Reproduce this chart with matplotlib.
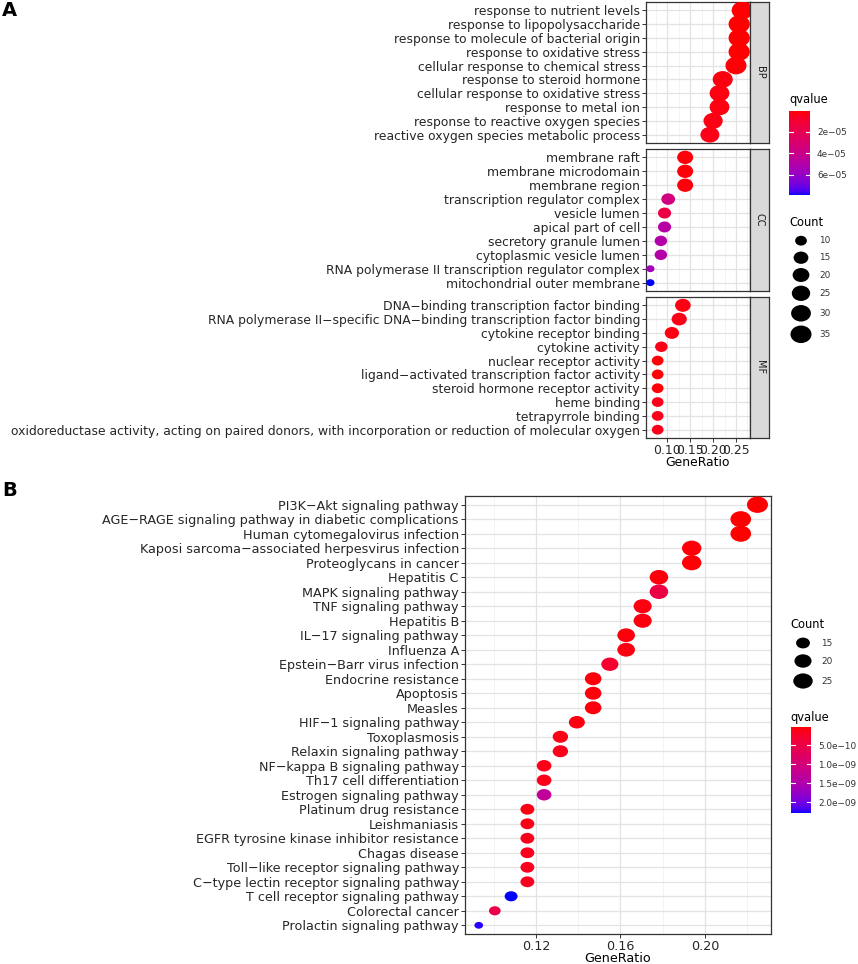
import numpy as np
import matplotlib
matplotlib.use('Agg')
import matplotlib.pyplot as plt
from matplotlib.path import Path
from matplotlib.transforms import Affine2D
from matplotlib.colors import ListedColormap, Normalize

W, H = 858, 964
DPI = 100

# ---------------- panel A: GO enrichment ----------------
bp_terms = ['response to nutrient levels', 'response to lipopolysaccharide',
            'response to molecule of bacterial origin', 'response to oxidative stress',
            'cellular response to chemical stress', 'response to steroid hormone',
            'cellular response to oxidative stress', 'response to metal ion',
            'response to reactive oxygen species', 'reactive oxygen species metabolic process']
bp_ratio = [0.264, 0.257, 0.257, 0.257, 0.250, 0.221, 0.214, 0.214, 0.200, 0.193]
bp_count = [37, 36, 36, 36, 35, 31, 30, 30, 28, 27]
bp_q = [1.0e-6, 6e-7, 8e-7, 9e-7, 1.5e-6, 2.5e-6, 3e-6, 2.8e-6, 3.5e-6, 4e-6]

cc_terms = ['membrane raft', 'membrane microdomain', 'membrane region',
            'transcription regulator complex', 'vesicle lumen', 'apical part of cell',
            'secretory granule lumen', 'cytoplasmic vesicle lumen',
            'RNA polymerase II transcription regulator complex', 'mitochondrial outer membrane']
cc_ratio = [0.139, 0.139, 0.139, 0.102, 0.094, 0.094, 0.086, 0.086, 0.063, 0.063]
cc_count = [18, 18, 18, 13, 12, 12, 11, 11, 8, 8]
cc_q = [2.0e-6, 2.1e-6, 2.3e-6, 3.6e-5, 1.6e-5, 4.9e-5, 5.0e-5, 5.0e-5, 5.6e-5, 7.86e-5]

mf_terms = ['DNA\u2212binding transcription factor binding',
            'RNA polymerase II\u2212specific DNA\u2212binding transcription factor binding',
            'cytokine receptor binding', 'cytokine activity', 'nuclear receptor activity',
            'ligand\u2212activated transcription factor activity', 'steroid hormone receptor activity',
            'heme binding', 'tetrapyrrole binding',
            'oxidoreductase activity, acting on paired donors, with incorporation or reduction of molecular oxygen']
mf_ratio = [0.134, 0.126, 0.110, 0.087, 0.079, 0.079, 0.079, 0.079, 0.079, 0.079]
mf_count = [17, 16, 14, 11, 10, 10, 10, 10, 10, 10]
mf_q = [3e-6, 4e-6, 2.5e-6, 4e-6, 1.5e-6, 1.5e-6, 1.5e-6, 5e-6, 5e-6, 5e-6]

a_xticks = [0.10, 0.15, 0.20, 0.25]
a_qticks = [2e-5, 4e-5, 6e-5]
a_qlabels = ['2e\u221205', '4e\u221205', '6e\u221205']
a_count_breaks = [10, 15, 20, 25, 30, 35]

# ---------------- panel B: KEGG enrichment ----------------
kegg_terms = ['PI3K\u2212Akt signaling pathway',
              'AGE\u2212RAGE signaling pathway in diabetic complications',
              'Human cytomegalovirus infection',
              'Kaposi sarcoma\u2212associated herpesvirus infection',
              'Proteoglycans in cancer', 'Hepatitis C', 'MAPK signaling pathway',
              'TNF signaling pathway', 'Hepatitis B', 'IL\u221217 signaling pathway',
              'Influenza A', 'Epstein\u2212Barr virus infection', 'Endocrine resistance',
              'Apoptosis', 'Measles', 'HIF\u22121 signaling pathway', 'Toxoplasmosis',
              'Relaxin signaling pathway', 'NF\u2212kappa B signaling pathway',
              'Th17 cell differentiation', 'Estrogen signaling pathway',
              'Platinum drug resistance', 'Leishmaniasis',
              'EGFR tyrosine kinase inhibitor resistance', 'Chagas disease',
              'Toll\u2212like receptor signaling pathway',
              'C\u2212type lectin receptor signaling pathway',
              'T cell receptor signaling pathway', 'Colorectal cancer',
              'Prolactin signaling pathway']
kegg_ratio = [0.2248, 0.2169, 0.2169, 0.1937, 0.1937, 0.1782, 0.1782, 0.1705, 0.1705,
              0.1627, 0.1627, 0.1550, 0.1471, 0.1471, 0.1471, 0.1394, 0.1316, 0.1316,
              0.1239, 0.1239, 0.1239, 0.1160, 0.1160, 0.1160, 0.1160, 0.1160, 0.1160,
              0.1083, 0.1006, 0.0930]
kegg_count = [29, 28, 28, 25, 25, 23, 23, 22, 22, 21, 21, 20, 19, 19, 19, 18, 17, 17,
              16, 16, 16, 15, 15, 15, 15, 15, 15, 14, 13, 12]
kegg_q = [2e-11, 1e-11, 1.5e-11, 4e-11, 3e-11, 6e-11, 4.6e-10, 8e-11, 7e-11, 6e-11,
          9e-11, 2.8e-10, 5e-11, 6e-11, 7e-11, 9e-11, 1e-10, 1.4e-10, 1.1e-10, 1.2e-10,
          1.3e-9, 9e-11, 1.1e-10, 1.2e-10, 1.4e-10, 1.6e-10, 1.6e-10, 2.29e-9, 5e-10, 2.25e-9]

b_xticks = [0.12, 0.16, 0.20]
b_qticks = [5e-10, 1e-9, 1.5e-9, 2e-9]
b_qlabels = ['5.0e\u221210', '1.0e\u221209', '1.5e\u221209', '2.0e\u221209']
b_count_breaks = [15, 20, 25]

# ---------------- colour scale: red -> blue through Lab (like ggplot) ----------------
M = np.array([[0.4124, 0.3576, 0.1805], [0.2126, 0.7152, 0.0722], [0.0193, 0.1192, 0.9505]])
WHITE = np.array([0.95047, 1.0, 1.08883])


def to_lab(rgb):
    c = np.array(rgb, float)
    c = np.where(c > 0.04045, ((c + 0.055) / 1.055) ** 2.4, c / 12.92)
    xyz = M @ c / WHITE
    f = np.where(xyz > 0.008856, np.cbrt(xyz), 7.787 * xyz + 16 / 116)
    return np.array([116 * f[1] - 16, 500 * (f[0] - f[1]), 200 * (f[1] - f[2])])


def from_lab(lab):
    L, a, b = lab
    fy = (L + 16) / 116
    f = np.array([fy + a / 500, fy, fy - b / 200])
    xyz = np.where(f ** 3 > 0.008856, f ** 3, (f - 16 / 116) / 7.787) * WHITE
    c = np.clip(np.linalg.solve(M, xyz), 0, 1)
    c = np.where(c > 0.0031308, 1.055 * c ** (1 / 2.4) - 0.055, 12.92 * c)
    return np.clip(c, 0, 1)


lab_r, lab_b = to_lab([1, 0, 0]), to_lab([0, 0, 1])
cmap = ListedColormap([from_lab(lab_r + t * (lab_b - lab_r)) for t in np.linspace(0, 1, 256)])

# ---------------- helpers ----------------
TXT = '#262626'
FS_A = 8.9
FS_B = 9.2
FS_LEG = 6.4


def box(x0, y0, x1, y1):
    return [x0 / W, 1 - y1 / H, (x1 - x0) / W, (y1 - y0) / H]


def ellipse(stretch):
    return Path.unit_circle().transformed(Affine2D().scale(stretch, 1.0))


def dot_size(counts, cmin, cmax, hmin, hmax, stretch):
    # ggplot-like area scale: diameter grows with sqrt of the rescaled count
    r = (np.asarray(counts, float) - cmin) / (cmax - cmin)
    h = hmin + (hmax - hmin) * np.sqrt(np.clip(r, 0, 1))
    return (h * stretch * 72.0 / DPI) ** 2


def style_axes(ax, xlim, xticks, minor, fs):
    ax.set_facecolor('white')
    ax.set_xlim(*xlim)
    ax.set_xticks(xticks)
    ax.set_xticks(minor, minor=True)
    ax.grid(True, which='major', color='#E3E3E3', lw=0.9)
    ax.grid(True, which='minor', axis='x', color='#EFEFEF', lw=0.5)
    ax.set_axisbelow(True)
    for s in ax.spines.values():
        s.set_color('#333333')
        s.set_linewidth(0.9)
    ax.tick_params(which='major', length=3.2, width=0.7, color='#333333',
                   labelsize=fs, labelcolor=TXT, pad=1.2)
    ax.tick_params(which='minor', length=0)


fig = plt.figure(figsize=(W / DPI, H / DPI), dpi=DPI)
plt.rcParams['font.family'] = ['DejaVu Sans']

# ---------------- panel A ----------------
a_norm = Normalize(min(bp_q + cc_q + mf_q), max(bp_q + cc_q + mf_q))
a_all = bp_count + cc_count + mf_count
a_min, a_max = min(a_all), max(a_all)
A_STRETCH = 1.2
A_HMIN, A_HMAX = 6.9, 17.9
a_marker = ellipse(A_STRETCH)
a_xlim = (0.0535, 0.2806)
a_minor = [0.075, 0.125, 0.175, 0.225, 0.275]

facets = [('BP', bp_terms, bp_ratio, bp_count, bp_q, 2, 143),
          ('CC', cc_terms, cc_ratio, cc_count, cc_q, 149, 291),
          ('MF', mf_terms, mf_ratio, mf_count, mf_q, 297, 438)]

for name, terms, ratio, count, q, top, bot in facets:
    ax = fig.add_axes(box(646, top, 750, bot))
    style_axes(ax, a_xlim, a_xticks, a_minor, FS_A)
    y = np.arange(len(terms))
    ax.scatter(ratio, y, s=dot_size(count, a_min, a_max, A_HMIN, A_HMAX, A_STRETCH),
               c=q, cmap=cmap, norm=a_norm, marker=a_marker, linewidths=0, zorder=3)
    ax.set_yticks(y)
    ax.set_yticklabels(terms)
    ax.set_ylim(len(terms) - 0.4, -0.6)
    if name == 'MF':
        ax.set_xticklabels(['%.2f' % v for v in a_xticks])
    else:
        ax.tick_params(axis='x', labelbottom=False, length=0)
    # facet strip
    sx = fig.add_axes(box(750, top, 769, bot))
    sx.set_facecolor('#D9D9D9')
    sx.set_xticks([])
    sx.set_yticks([])
    for s in sx.spines.values():
        s.set_color('#333333')
        s.set_linewidth(0.9)
    sx.text(0.5, 0.5, name, rotation=-90, ha='center', va='center',
            fontsize=7, color='#1A1A1A', transform=sx.transAxes)

fig.text(698 / W, 1 - 462 / H, 'GeneRatio', ha='center', va='center',
         fontsize=FS_A, color='#000000')

# ---------------- panel B ----------------
b_norm = Normalize(min(kegg_q), max(kegg_q))
B_STRETCH = 1.28
B_HMIN, B_HMAX = 6.8, 16.4
b_marker = ellipse(B_STRETCH)
bx = fig.add_axes(box(465, 496, 771, 934))
style_axes(bx, (0.0865, 0.2312), b_xticks, [0.10, 0.14, 0.18, 0.22], FS_B)
yb = np.arange(len(kegg_terms))
bx.scatter(kegg_ratio, yb,
           s=dot_size(kegg_count, min(kegg_count), max(kegg_count), B_HMIN, B_HMAX, B_STRETCH),
           c=kegg_q, cmap=cmap, norm=b_norm, marker=b_marker, linewidths=0, zorder=3)
bx.set_yticks(yb)
bx.set_yticklabels(kegg_terms)
bx.set_xticklabels(['%.2f' % v for v in b_xticks])
bx.set_ylim(len(kegg_terms) - 0.4, -0.6)
fig.text(618 / W, 1 - 958 / H, 'GeneRatio', ha='center', va='center',
         fontsize=FS_B, color='#000000')

# ---------------- legends ----------------
lg = fig.add_axes([0, 0, 1, 1])
lg.set_xlim(0, W)
lg.set_ylim(H, 0)
lg.axis('off')
lg.patch.set_alpha(0)


def colorbar(x0, y0, x1, y1, norm, ticks, labels):
    cb = fig.add_axes(box(x0, y0, x1, y1))
    vals = np.linspace(norm.vmin, norm.vmax, 256)[:, None]
    cb.imshow(vals, aspect='auto', cmap=cmap, norm=norm,
              extent=[0, 1, norm.vmax, norm.vmin], origin='upper')
    cb.set_xticks([])
    cb.yaxis.tick_right()
    cb.set_yticks(ticks)
    cb.set_yticklabels(labels)
    cb.tick_params(axis='y', length=0, labelsize=FS_LEG, labelcolor='#333333', pad=5)
    for t in ticks:
        cb.plot([0, 0.2], [t, t], color='white', lw=0.8)
        cb.plot([0.8, 1], [t, t], color='white', lw=0.8)
    cb.set_xlim(0, 1)
    for s in cb.spines.values():
        s.set_visible(False)


def count_legend(x_title, y_title, x_dot, x_lab, ys, breaks, cmin, cmax, hmin, hmax, stretch, marker):
    lg.text(x_title, y_title, 'Count', ha='left', va='center', fontsize=8.3, color='#000000')
    lg.scatter([x_dot] * len(breaks), ys, s=dot_size(breaks, cmin, cmax, hmin, hmax, stretch),
               c='black', marker=marker, linewidths=0)
    for yy, b in zip(ys, breaks):
        lg.text(x_lab, yy, str(b), ha='left', va='center', fontsize=FS_LEG, color='#333333')


# panel A legends
lg.text(789, 100, 'qvalue', ha='left', va='center', fontsize=8.3, color='#000000')
colorbar(789, 111, 810, 195, a_norm, a_qticks, a_qlabels)
count_legend(789, 222, 801, 819, [240.7, 257.7, 275, 293.3, 313.3, 334.3], a_count_breaks,
             a_min, a_max, A_HMIN, A_HMAX, A_STRETCH, a_marker)

# panel B legends
count_legend(790, 625, 803, 821, [643, 661, 681], b_count_breaks,
             min(kegg_count), max(kegg_count), B_HMIN, B_HMAX, B_STRETCH, b_marker)
lg.text(790, 717, 'qvalue', ha='left', va='center', fontsize=8.3, color='#000000')
colorbar(791, 727, 811, 813, b_norm, b_qticks, b_qlabels)

# panel tags
lg.text(2, 11, 'A', ha='left', va='center', fontsize=14, fontweight='bold', color='black')
lg.text(2, 491, 'B', ha='left', va='center', fontsize=14, fontweight='bold', color='black')

fig.savefig('out.png', dpi=DPI)
